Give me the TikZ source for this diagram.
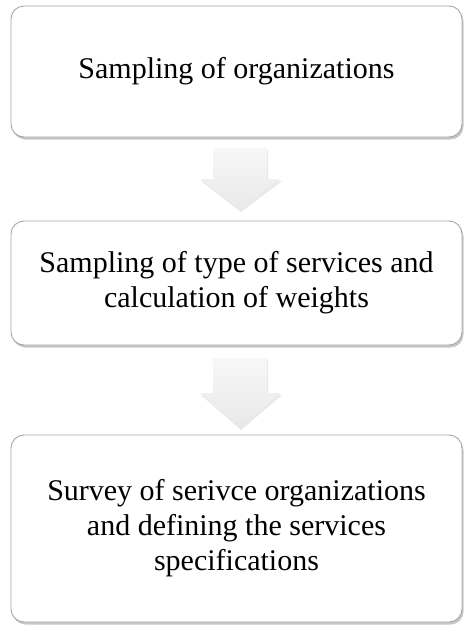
\documentclass[tikz,border=0pt]{standalone}
\usepackage{fontspec}
\setmainfont{Liberation Serif}
\usetikzlibrary{shadows}

\tikzset{
  stagebox/.style={draw=gray!70, line width=0.9pt, rounded corners=13pt, fill=white,
    drop shadow={shadow xshift=1.5pt, shadow yshift=-2.5pt, opacity=0.45},
    align=center, font=\fontsize{30}{35}\selectfont, inner sep=0pt},
  downarrow/.style={draw=none, top color=gray!6, bottom color=gray!18,
    drop shadow={shadow xshift=1pt, shadow yshift=-2pt, opacity=0.18}}
}

\begin{document}
\begin{tikzpicture}[x=1pt,y=-1pt]

%% - Fix page size
%% - --------------------------------------

\useasboundingbox (0,0) rectangle (464,625);

%% - Draw arrows
%% - --------------------------------------

%% - organizations to services
\path[downarrow] (213,148) -- (267,148) -- (267,179) -- (281,179) -- (240,210)
  -- (200,179) -- (213,179) -- cycle;
%% - services to survey
\path[downarrow] (213,358) -- (267,358) -- (267,393) -- (281,393) -- (240,428)
  -- (200,393) -- (213,393) -- cycle;

%% - Draw boxes
%% - --------------------------------------

\node[stagebox, minimum width=451pt, minimum height=131pt] (sampling) at (236.5,71.5)
  {Sampling of organizations};
\node[stagebox, minimum width=451pt, minimum height=124pt] (weights) at (236.5,283)
  {Sampling of type of services and\\calculation of weights};
\node[stagebox, minimum width=451pt, minimum height=187pt] (survey) at (236.5,528.5)
  {Survey of serivce organizations\\and defining the services\\specifications};

\end{tikzpicture}
\end{document}
